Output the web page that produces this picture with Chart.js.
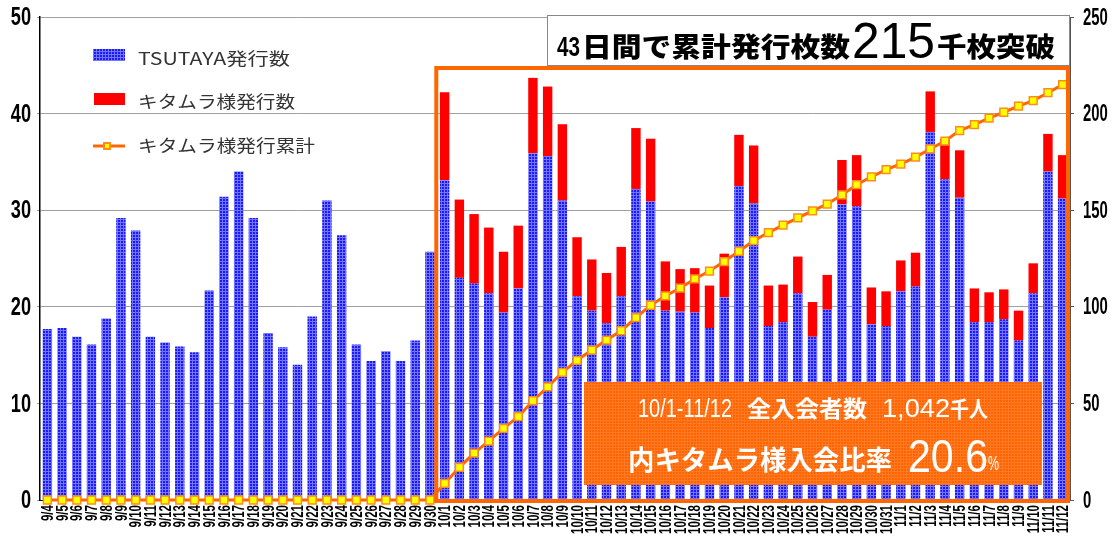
<!DOCTYPE html>
<html lang="ja">
<head>
<meta charset="utf-8">
<title>発行枚数</title>
<script src="https://cdn.jsdelivr.net/npm/chart.js@4.4.1/dist/chart.umd.min.js"></script>
<style>
html, body { margin: 0; padding: 0; background: #fff; }
#chart { display: block; }
</style>
</head>
<body>
<canvas id="chart" width="1119" height="548"></canvas>
<script>
const labels = [
    '9/4', '9/5', '9/6', '9/7', '9/8', '9/9', '9/10', '9/11', '9/12', '9/13',
    '9/14', '9/15', '9/16', '9/17', '9/18', '9/19', '9/20', '9/21', '9/22', '9/23',
    '9/24', '9/25', '9/26', '9/27', '9/28', '9/29', '9/30',
    '10/1', '10/2', '10/3', '10/4', '10/5', '10/6', '10/7', '10/8', '10/9', '10/10',
    '10/11', '10/12', '10/13', '10/14', '10/15', '10/16', '10/17', '10/18', '10/19', '10/20',
    '10/21', '10/22', '10/23', '10/24', '10/25', '10/26', '10/27', '10/28', '10/29', '10/30', '10/31',
    '11/1', '11/2', '11/3', '11/4', '11/5', '11/6', '11/7', '11/8', '11/9', '11/10', '11/11', '11/12'
];

// TSUTAYA発行数 (千枚)
const tsutayaData = [
    17.7, 17.8, 16.9, 16.1, 18.8, 29.2, 27.9, 16.9, 16.3, 15.9,
    15.3, 21.7, 31.4, 34.0, 29.2, 17.3, 15.8, 14.0, 19.0, 31.0,
    27.4, 16.1, 14.4, 15.4, 14.4, 16.5, 25.7,
    33.1, 23.0, 22.4, 21.4, 19.4, 21.9, 35.9, 35.6, 31.0, 21.1,
    19.6, 18.3, 21.1, 32.2, 30.9, 19.6, 19.5, 19.4, 17.8, 21.0,
    32.5, 30.7, 18.0, 18.4, 21.4, 16.9, 19.7, 30.6, 30.4, 18.2, 18.0,
    21.6, 22.1, 38.1, 33.2, 31.3, 18.4, 18.4, 18.7, 16.5, 21.4, 34.0, 31.2
];

// キタムラ様発行数 (千枚)
const kitamuraData = [
    0, 0, 0, 0, 0, 0, 0, 0, 0, 0,
    0, 0, 0, 0, 0, 0, 0, 0, 0, 0,
    0, 0, 0, 0, 0, 0, 0,
    9.1, 8.1, 7.2, 6.8, 6.3, 6.5, 7.8, 7.2, 7.9, 6.1,
    5.3, 5.2, 5.1, 6.3, 6.5, 5.1, 4.4, 4.6, 4.4, 4.5,
    5.3, 6.0, 4.2, 3.9, 3.8, 3.6, 3.6, 4.6, 5.3, 3.8, 3.6,
    3.2, 3.5, 4.2, 4.2, 4.9, 3.5, 3.1, 3.1, 3.1, 3.1, 3.9, 4.5
];

// キタムラ様発行累計 (千枚)
const kitamuraTotal = [
    0, 0, 0, 0, 0, 0, 0, 0, 0, 0,
    0, 0, 0, 0, 0, 0, 0, 0, 0, 0,
    0, 0, 0, 0, 0, 0, 0,
    8.6, 16.9, 24.3, 30.5, 37.1, 43.1, 51.4, 58.5, 66.1, 72.3,
    77.6, 82.8, 87.6, 94.4, 100.8, 105.6, 109.7, 114.4, 118.5, 123.4,
    128.7, 134.2, 138.4, 142.3, 146.0, 149.6, 153.2, 157.9, 163.2, 167.3, 171.0,
    173.9, 177.5, 181.7, 185.8, 191.2, 194.3, 197.7, 200.7, 203.9, 206.7, 210.8, 215.0
];

const SANS = "'Liberation Sans', Arial, sans-serif";
const JP = "'Noto Sans CJK JP', 'Noto Sans', sans-serif";

const ctx = document.getElementById('chart').getContext('2d');

function makePattern(base, line, size) {
    const c = document.createElement('canvas');
    c.width = size;
    c.height = size;
    const g = c.getContext('2d');
    g.fillStyle = base;
    g.fillRect(0, 0, size, size);
    g.fillStyle = line;
    g.fillRect(0, 0, size, 1);
    g.fillRect(0, 0, 1, size);
    return ctx.createPattern(c, 'repeat');
}

const bluePattern = makePattern('#1a1aff', '#7474ff', 3);
const orangePattern = makePattern('#ff6400', '#ff7a22', 3);

// text squeezed/stretched to a given width
function fitText(c, text, x, y, font, width, color) {
    c.save();
    c.font = font;
    c.fillStyle = color;
    c.textAlign = 'left';
    c.textBaseline = 'alphabetic';
    const w = c.measureText(text).width;
    c.translate(x, y);
    c.scale(width / w, 1);
    c.fillText(text, 0, 0);
    c.restore();
}

// condensed text: horizontal squeeze sx, optional rotation
function narrowText(c, text, x, y, font, sx, align, rot) {
    c.save();
    c.font = font;
    c.fillStyle = '#000';
    c.textAlign = align;
    c.textBaseline = 'middle';
    c.translate(x, y);
    if (rot) c.rotate(rot);
    c.scale(sx, 1);
    c.fillText(text, 0, 0);
    c.restore();
}

const tickLabels = {
    id: 'tickLabels',
    afterDraw(chart) {
        const c = chart.ctx;
        const { x, y, y1 } = chart.scales;
        x.ticks.forEach((t, i) => {
            narrowText(c, labels[i], x.getPixelForTick(i) + 1, 505, 'bold 17px ' + SANS, 0.68, 'right', -Math.PI / 2);
        });
        y.ticks.forEach((t, i) => {
            narrowText(c, String(t.value), 31, y.getPixelForTick(i) + 1, 'bold 26px ' + SANS, 0.7, 'right', 0);
        });
        y1.ticks.forEach((t, i) => {
            narrowText(c, String(t.value), 1083, y1.getPixelForTick(i) + 1, 'bold 24px ' + SANS, 0.62, 'left', 0);
        });
    }
};

const decorations = {
    id: 'decorations',
    afterDraw(chart) {
        const c = chart.ctx;
        const x = chart.scales.x;
        const area = chart.chartArea;

        // legend
        c.save();
        c.fillStyle = bluePattern;
        c.fillRect(93, 49, 32, 12);
        c.fillStyle = '#ff0000';
        c.fillRect(94, 93, 31, 12);
        c.strokeStyle = '#ff6600';
        c.lineWidth = 3;
        c.beginPath();
        c.moveTo(93, 146);
        c.lineTo(125, 146);
        c.stroke();
        c.fillStyle = '#ff8c1a';
        c.fillRect(103, 142, 8, 8);
        c.fillStyle = '#ffff00';
        c.fillRect(105, 144, 4, 4);
        c.restore();
        fitText(c, 'TSUTAYA発行数', 138, 65, '17px ' + JP, 152, '#333');
        fitText(c, 'キタムラ様発行数', 138, 108, '17px ' + JP, 157, '#333');
        fitText(c, 'キタムラ様発行累計', 138, 152, '17px ' + JP, 177, '#333');

        // orange frame round the キタムラ period
        const left = (x.getPixelForValue(26) + x.getPixelForValue(27)) / 2;
        c.save();
        c.strokeStyle = '#ff6600';
        c.lineWidth = 4;
        c.strokeRect(left - 1, 68, area.right - left - 1, area.bottom - 68 + 1);
        c.restore();

        // title box
        c.save();
        c.fillStyle = '#fff';
        c.fillRect(547, 15, area.right - 547, 51);
        c.strokeStyle = '#888';
        c.lineWidth = 1;
        c.strokeRect(547.5, 15.5, area.right - 548, 50);
        c.restore();
        fitText(c, '43', 557, 56, 'bold 28px ' + SANS, 23, '#000');
        fitText(c, '日間で累計発行枚数', 582, 57, '900 27px ' + JP, 268, '#000');
        fitText(c, '215', 852, 58, '50px ' + SANS, 83, '#000');
        fitText(c, '千枚突破', 937, 57, '900 27px ' + JP, 118, '#000');

        // info box
        c.save();
        c.fillStyle = orangePattern;
        c.fillRect(584, 382, 458, 103);
        c.restore();
        fitText(c, '10/1-11/12', 638, 417, '26px ' + SANS, 94, '#fff');
        fitText(c, '全入会者数', 747, 417, 'bold 23px ' + JP, 120, '#fff');
        fitText(c, '1,042', 882, 417, '26px ' + SANS, 68, '#fff');
        fitText(c, '千人', 950, 417, 'bold 22px ' + JP, 38, '#fff');
        fitText(c, '内キタムラ様入会比率', 628, 470, 'bold 27px ' + JP, 264, '#fff');
        fitText(c, '20.6', 908, 472, '47px ' + SANS, 80, '#fff');
        fitText(c, '%', 988, 470, '21px ' + SANS, 11, '#fff');
    }
};

new Chart(ctx, {
    data: {
        labels: labels,
        datasets: [{
            type: 'line',
            label: 'キタムラ様発行累計',
            data: kitamuraTotal,
            yAxisID: 'y1',
            borderColor: '#ff6600',
            borderWidth: 3,
            pointStyle: 'rect',
            pointRadius: 5.5,
            pointBorderWidth: 1.5,
            pointBackgroundColor: '#ffff00',
            pointBorderColor: '#ff8c1a',
            tension: 0,
            clip: false,
            order: 0
        }, {
            type: 'bar',
            label: 'TSUTAYA発行数',
            data: tsutayaData,
            yAxisID: 'y',
            backgroundColor: bluePattern,
            borderWidth: 0,
            barPercentage: 0.64,
            categoryPercentage: 1,
            order: 1
        }, {
            type: 'bar',
            label: 'キタムラ様発行数',
            data: kitamuraData,
            yAxisID: 'y',
            backgroundColor: '#ff0000',
            borderWidth: 0,
            barPercentage: 0.64,
            categoryPercentage: 1,
            order: 2
        }]
    },
    options: {
        responsive: false,
        animation: false,
        layout: {
            padding: { top: 17, left: 0, right: 0, bottom: 0 }
        },
        plugins: {
            legend: { display: false },
            tooltip: { enabled: false }
        },
        scales: {
            x: {
                stacked: true,
                grid: { display: false },
                border: { display: true, color: '#000', width: 1 },
                ticks: { display: false, autoSkip: false },
                afterFit(scale) { scale.height = 48; }
            },
            y: {
                stacked: true,
                position: 'left',
                min: 0,
                max: 50,
                ticks: { stepSize: 10, display: false },
                grid: { color: '#a0a0a0', lineWidth: 1, tickLength: 3 },
                border: { display: true, color: '#000', width: 1.5 },
                afterFit(scale) { scale.width = 40; }
            },
            y1: {
                position: 'right',
                min: 0,
                max: 250,
                ticks: { stepSize: 50, display: false },
                grid: { drawOnChartArea: false, tickLength: 4, color: '#555' },
                border: { display: true, color: '#555', width: 1 },
                afterFit(scale) { scale.width = 49; }
            }
        }
    },
    plugins: [tickLabels, decorations]
});
</script>
</body>
</html>
